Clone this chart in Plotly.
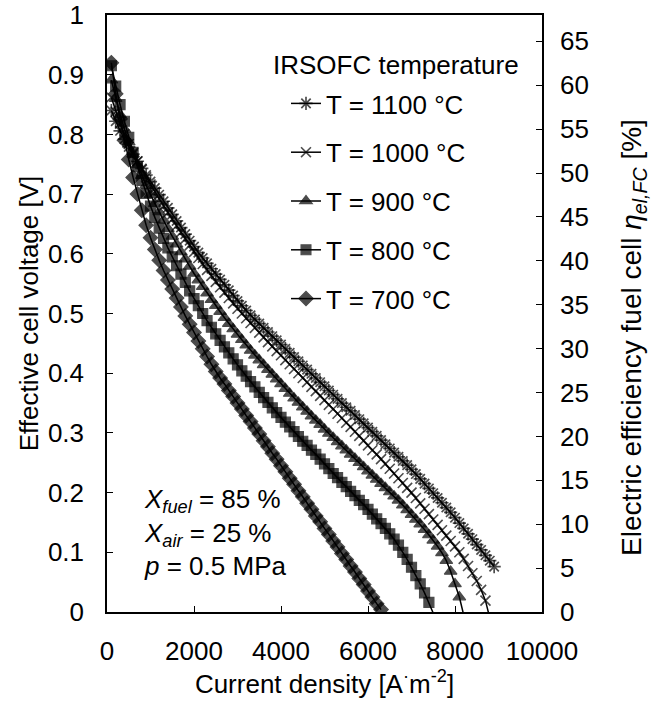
import plotly.graph_objects as go

# Current density [A/m^2]
I_A = [100, 200, 300, 400, 500, 600, 700, 800, 900, 1000,
       1100, 1200, 1300, 1400, 1500, 1600, 1700, 1800, 1900, 2000,
       2100, 2200, 2300, 2400, 2500, 2600, 2700, 2800, 2900, 3000,
       3100, 3200, 3300, 3400, 3500, 3600, 3700, 3800, 3900, 4000,
       4100, 4200, 4300, 4400, 4500, 4600, 4700, 4800, 4900, 5000,
       5100, 5200, 5300, 5400, 5500, 5600, 5700, 5800, 5900, 6000,
       6100, 6200, 6300, 6400, 6500, 6600, 6700, 6800, 6900, 7000,
       7100, 7200, 7300, 7400, 7500, 7600, 7700, 7800, 7900, 8000,
       8100, 8200, 8300, 8400, 8500, 8600, 8700, 8800, 8900]

V_1100 = [0.840, 0.822, 0.806, 0.792, 0.779, 0.767, 0.755, 0.743, 0.732, 0.721,
          0.710, 0.699, 0.688, 0.677, 0.666, 0.655, 0.644, 0.633, 0.622, 0.612,
          0.602, 0.593, 0.584, 0.575, 0.566, 0.557, 0.548, 0.539, 0.530, 0.521,
          0.513, 0.505, 0.497, 0.490, 0.483, 0.476, 0.469, 0.462, 0.455, 0.448,
          0.441, 0.434, 0.427, 0.420, 0.413, 0.406, 0.399, 0.392, 0.385, 0.378,
          0.371, 0.364, 0.357, 0.350, 0.343, 0.337, 0.330, 0.323, 0.316, 0.309,
          0.302, 0.295, 0.288, 0.281, 0.274, 0.267, 0.260, 0.253, 0.246, 0.239,
          0.231, 0.223, 0.215, 0.207, 0.199, 0.191, 0.183, 0.175, 0.167, 0.158,
          0.149, 0.140, 0.131, 0.122, 0.113, 0.104, 0.095, 0.086, 0.076]

V_1000 = [0.862, 0.838, 0.818, 0.800, 0.784, 0.769, 0.755, 0.741, 0.728, 0.716,
          0.704, 0.692, 0.680, 0.669, 0.658, 0.647, 0.636, 0.625, 0.614, 0.603,
          0.593, 0.583, 0.573, 0.563, 0.553, 0.544, 0.535, 0.526, 0.517, 0.508,
          0.500, 0.492, 0.484, 0.476, 0.468, 0.460, 0.452, 0.445, 0.437, 0.430,
          0.422, 0.415, 0.407, 0.400, 0.392, 0.385, 0.377, 0.370, 0.362, 0.355,
          0.347, 0.340, 0.332, 0.325, 0.317, 0.310, 0.302, 0.295, 0.287, 0.279,
          0.271, 0.264, 0.256, 0.248, 0.240, 0.232, 0.224, 0.216, 0.208, 0.200,
          0.191, 0.182, 0.173, 0.164, 0.155, 0.146, 0.137, 0.128, 0.119, 0.110,
          0.100, 0.089, 0.077, 0.065, 0.052, 0.037, 0.019, -0.010]

V_900 = [0.891, 0.860, 0.833, 0.809, 0.787, 0.767, 0.749, 0.731, 0.715, 0.699,
         0.684, 0.670, 0.656, 0.642, 0.629, 0.616, 0.603, 0.591, 0.579, 0.567,
         0.556, 0.545, 0.534, 0.523, 0.513, 0.503, 0.493, 0.483, 0.474, 0.465,
         0.456, 0.447, 0.438, 0.430, 0.422, 0.414, 0.406, 0.398, 0.390, 0.382,
         0.374, 0.366, 0.358, 0.351, 0.343, 0.336, 0.328, 0.321, 0.314, 0.306,
         0.299, 0.292, 0.285, 0.278, 0.271, 0.264, 0.257, 0.250, 0.243, 0.236,
         0.229, 0.222, 0.215, 0.208, 0.201, 0.194, 0.187, 0.179, 0.171, 0.163,
         0.155, 0.147, 0.138, 0.129, 0.120, 0.110, 0.099, 0.086, 0.068, 0.047,
         0.025, -0.005]

V_800 = [0.915, 0.881, 0.850, 0.822, 0.795, 0.770, 0.746, 0.723, 0.701, 0.680,
         0.661, 0.643, 0.626, 0.610, 0.595, 0.580, 0.566, 0.552, 0.538, 0.525,
         0.513, 0.500, 0.488, 0.477, 0.466, 0.455, 0.444, 0.434, 0.424, 0.414,
         0.404, 0.395, 0.386, 0.377, 0.368, 0.359, 0.351, 0.342, 0.334, 0.326,
         0.318, 0.310, 0.302, 0.294, 0.286, 0.279, 0.271, 0.264, 0.256, 0.248,
         0.240, 0.232, 0.225, 0.217, 0.210, 0.202, 0.195, 0.187, 0.180, 0.172,
         0.164, 0.156, 0.148, 0.140, 0.131, 0.122, 0.112, 0.100, 0.088, 0.075,
         0.061, 0.047, 0.032, 0.016, -0.002]

V_700 = [0.920, 0.868, 0.826, 0.790, 0.758, 0.728, 0.700, 0.673, 0.648, 0.627,
         0.607, 0.589, 0.572, 0.556, 0.541, 0.526, 0.511, 0.496, 0.482, 0.468,
         0.454, 0.441, 0.428, 0.415, 0.403, 0.392, 0.382, 0.371, 0.361, 0.350,
         0.340, 0.329, 0.319, 0.308, 0.298, 0.287, 0.277, 0.266, 0.256, 0.245,
         0.235, 0.224, 0.214, 0.203, 0.193, 0.182, 0.172, 0.161, 0.151, 0.140,
         0.130, 0.119, 0.109, 0.098, 0.088, 0.077, 0.067, 0.056, 0.046, 0.035,
         0.025, 0.014, 0.004]

NAMES = ["T = 1100 °C", "T = 1000 °C", "T = 900 °C", "T = 800 °C", "T = 700 °C"]
SERIES = [V_1100, V_1000, V_900, V_800, V_700]
SYMBOLS = ["asterisk-open", "x-thin-open", "triangle-up", "square", "diamond"]
SIZES = [11, 10, 11, 10, 11]
EDGE_W = [1.7, 1.6, 1.2, 1.2, 1.2]

X_TICKS = [0, 2000, 4000, 6000, 8000, 10000]
X_TICKTEXT = ["0", "2000", "4000", "6000", "8000", "10000"]

FONT = "Liberation Sans, Arial, sans-serif"
FS = 26

# plot area in pixels
L, R, T, B = 107, 542, 15, 612
W_PX, H_PX = R - L, B - T


def px_x(p):
    return (p - L) / W_PX


def px_y(p):
    return (B - p) / H_PX


fig = go.Figure()
for name, v, sym, sz, ew in zip(NAMES, SERIES, SYMBOLS, SIZES, EDGE_W):
    n = len(v)
    sizes = [sz] * n
    if v[-1] < 0:
        sizes[-1] = 0
    fig.add_trace(go.Scatter(
        x=I_A[:n], y=v, mode="lines+markers", name=name, legendgroup=name,
        line=dict(color="black", width=1.5),
        marker=dict(symbol=sym, size=sizes, color="black",
                    line=dict(color="black", width=ew)),
    ))

# secondary axis carrier (efficiency scale)
fig.add_trace(go.Scatter(x=[None], y=[None], yaxis="y2", showlegend=False,
                         hoverinfo="skip"))

axis_common = dict(
    showline=True, linecolor="black", linewidth=1.5,
    ticks="inside", ticklen=6, tickcolor="black", tickwidth=1,
    showgrid=False, zeroline=False, automargin=False,
    tickfont=dict(family=FONT, size=FS, color="black"),
)

fig.update_layout(
    width=651, height=709,
    margin=dict(l=L, r=651 - R, t=T, b=709 - B),
    paper_bgcolor="white", plot_bgcolor="white",
    font=dict(family=FONT, size=FS, color="black"),
    showlegend=True,
    legend=dict(
        x=px_x(286), y=px_y(80), xanchor="left", yanchor="top",
        bgcolor="rgba(0,0,0,0)", borderwidth=0,
        font=dict(family=FONT, size=FS, color="black"),
        tracegroupgap=12, itemwidth=30,
    ),
    xaxis=dict(range=[0, 10000], tickvals=X_TICKS, ticktext=X_TICKTEXT,
               mirror=True, ticklabelstandoff=15,
               title=dict(text="Current density [A<sup>·</sup>m<sup>-2</sup>]",
                          font=dict(family=FONT, size=FS), standoff=10),
               **axis_common),
    yaxis=dict(range=[0, 1], dtick=0.1, tick0=0, ticklabelstandoff=16,
               title=dict(text="Effective cell voltage [V]",
                          font=dict(family=FONT, size=FS), standoff=2),
               **axis_common),
    yaxis2=dict(range=[0, 68], dtick=5, tick0=0, overlaying="y", side="right",
                ticklabelstandoff=11, **axis_common),
    annotations=[
        dict(text="Electric efficiency fuel cell <i>η</i><sub><i>el,FC</i></sub> [%]",
             x=px_x(633), y=px_y(338), xref="paper", yref="paper",
             xanchor="center", yanchor="middle", textangle=-90,
             showarrow=False, font=dict(family=FONT, size=28, color="black")),
        dict(text="IRSOFC temperature", x=px_x(521), y=px_y(65),
             xref="paper", yref="paper", xanchor="right", yanchor="middle",
             showarrow=False, font=dict(family=FONT, size=FS, color="black")),
        dict(text="<i>X</i><sub><i>fuel</i></sub> = 85 %", x=px_x(142),
             y=px_y(500), xref="paper", yref="paper", xanchor="left",
             yanchor="middle", showarrow=False,
             font=dict(family=FONT, size=FS, color="black")),
        dict(text="<i>X</i><sub><i>air</i></sub> = 25 %", x=px_x(142),
             y=px_y(534), xref="paper", yref="paper", xanchor="left",
             yanchor="middle", showarrow=False,
             font=dict(family=FONT, size=FS, color="black")),
        dict(text="<i>p</i> = 0.5 MPa", x=px_x(142),
             y=px_y(566), xref="paper", yref="paper", xanchor="left",
             yanchor="middle", showarrow=False,
             font=dict(family=FONT, size=FS, color="black")),
    ],
)

fig.write_html("out.html", config={"displayModeBar": False},
               post_script="document.body.style.margin='0px';")
